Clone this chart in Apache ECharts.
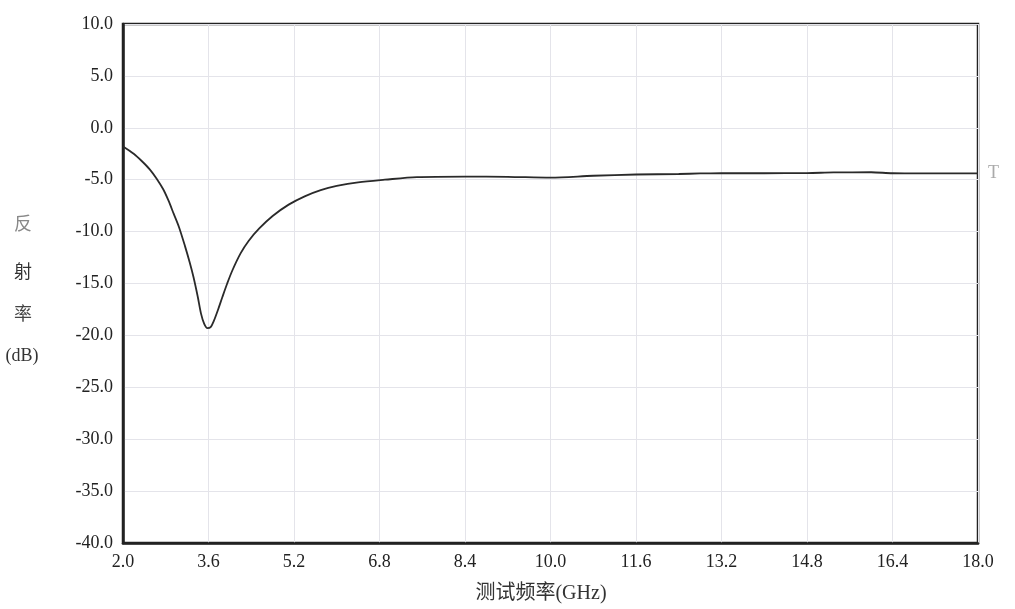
<!DOCTYPE html>
<html>
<head>
<meta charset="utf-8">
<script src="https://cdn.jsdelivr.net/npm/echarts@6/dist/echarts.min.js"></script>
<style>
html,body{margin:0;padding:0;background:#fff;}
#chart{width:1015px;height:609px;}
</style>
</head>
<body>
<div id="chart"></div>
<script>
// Frequency (GHz) and reflectivity (dB)
const freq = [2.0, 2.2, 2.35, 2.5, 2.63, 2.75, 2.85, 2.95, 3.05, 3.16, 3.25, 3.32, 3.4, 3.46, 3.52, 3.58, 3.64, 3.7, 3.78, 3.86, 3.95, 4.05, 4.2, 4.35, 4.55, 4.8, 5.1, 5.4, 5.7, 6.0, 6.4, 6.9, 7.5, 8.4, 9.2, 10.0, 10.8, 11.6, 12.4, 12.8, 13.2, 14.0, 14.8, 15.3, 16.0, 16.4, 17.2, 18.0];
const reflect = [-1.8, -2.5, -3.2, -4.0, -4.9, -5.9, -7.0, -8.3, -9.6, -11.4, -13.0, -14.4, -16.3, -17.9, -18.9, -19.3, -19.2, -18.6, -17.5, -16.3, -15.0, -13.7, -12.1, -10.9, -9.7, -8.5, -7.4, -6.6, -6.0, -5.6, -5.25, -5.0, -4.75, -4.7, -4.72, -4.8, -4.62, -4.5, -4.45, -4.4, -4.38, -4.38, -4.36, -4.3, -4.28, -4.38, -4.4, -4.4];
const xTickLabels = ['2.0','3.6','5.2','6.8','8.4','10.0','11.6','13.2','14.8','16.4','18.0'];
const yTickLabels = ['-40.0','-35.0','-30.0','-25.0','-20.0','-15.0','-10.0','-5.0','0.0','5.0','10.0'];
const xName = '测试频率(GHz)';
const yNameParts = ['反','射','率','(dB)'];
const seriesLabel = 'T';

const serif = '"Liberation Serif","DejaVu Serif",serif';
const chart = echarts.init(document.getElementById('chart'));
const pts = freq.map((f, i) => [f, reflect[i]]);

chart.setOption({
  backgroundColor: '#fff',
  animation: false,
  grid: {left: 123, right: 37, top: 24, bottom: 66, show: true, borderColor: '#222', borderWidth: 2.5, containLabel: false},
  xAxis: [
    {
      type: 'value', min: 2, max: 18, show: false
    },
    {
      type: 'value', min: 0, max: 10, interval: 1, position: 'bottom',
      axisLine: {show: true, lineStyle: {color: '#222', width: 2.5}},
      axisTick: {show: false},
      splitLine: {show: true, lineStyle: {color: '#e4e4ea', width: 1}},
      axisLabel: {
        formatter: v => xTickLabels[Math.round(v)],
        fontFamily: serif, fontSize: 18, color: '#222', margin: 10
      }
    }
  ],
  yAxis: {
    type: 'value', min: -40, max: 10, interval: 5,
    axisLine: {show: true, lineStyle: {color: '#222', width: 2.5}},
    axisTick: {show: false},
    splitLine: {show: true, lineStyle: {color: '#e4e4ea', width: 1}},
    axisLabel: {
      formatter: v => yTickLabels[Math.round((v + 40) / 5)],
      fontFamily: serif, fontSize: 18, color: '#222', margin: 10
    }
  },
  graphic: [
    {type: 'text', x: 23, y: 223, style: {text: yNameParts[0], font: '18px "Noto Sans CJK SC"', fill: '#888', align: 'center', verticalAlign: 'middle'}},
    {type: 'text', x: 23, y: 271, style: {text: yNameParts[1], font: '18px "Noto Sans CJK SC"', fill: '#333', align: 'center', verticalAlign: 'middle'}},
    {type: 'text', x: 23, y: 313, style: {text: yNameParts[2], font: '18px "Noto Sans CJK SC"', fill: '#444', align: 'center', verticalAlign: 'middle'}},
    {type: 'text', x: 22, y: 356, style: {text: yNameParts[3], font: '18px "Liberation Serif"', fill: '#333', align: 'center', verticalAlign: 'middle'}},
    {type: 'text', x: 541, y: 594, style: {text: xName, font: '20px "Liberation Serif","Noto Sans CJK SC"', fill: '#333', align: 'center', verticalAlign: 'middle'}}
  ],
  series: [{
    type: 'line',
    xAxisIndex: 0,
    data: pts,
    showSymbol: false,
    smooth: 0.3,
    lineStyle: {color: '#2a2a2a', width: 1.8},
    endLabel: {
      show: true, formatter: seriesLabel, distance: 10,
      fontFamily: serif, fontSize: 18, color: '#aaa'
    }
  }]
});
</script>
</body>
</html>
